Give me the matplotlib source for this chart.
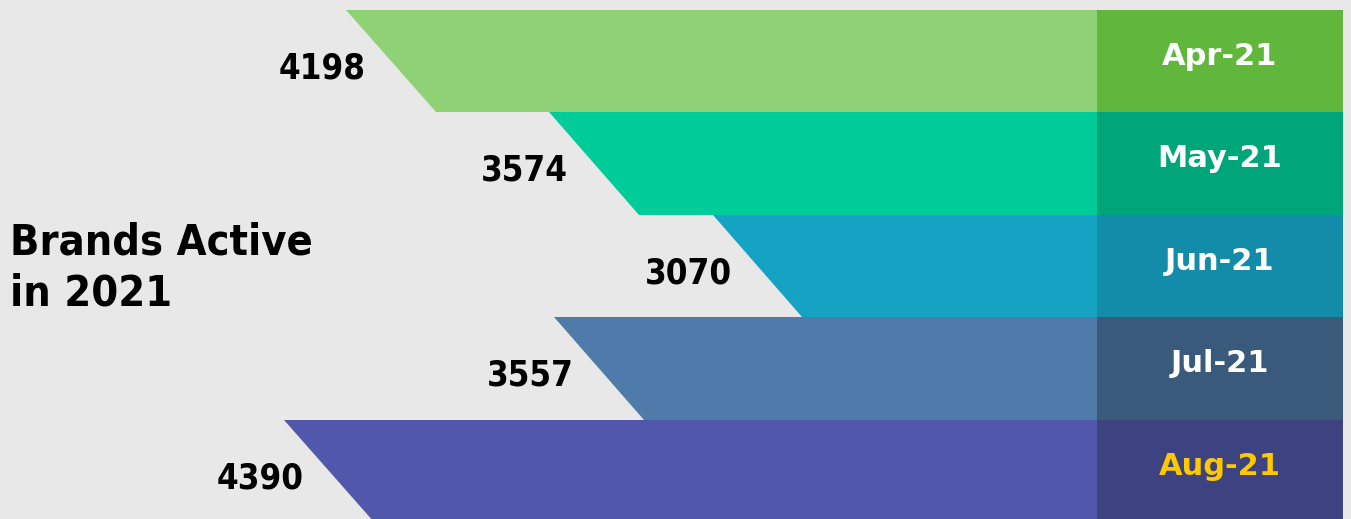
import matplotlib
matplotlib.use("Agg")
import matplotlib.pyplot as plt
from matplotlib.patches import Polygon

# data
months = ["Apr-21", "May-21", "Jun-21", "Jul-21", "Aug-21"]
brands = [4198, 3574, 3070, 3557, 4390]
light_colors = ["#8FD175", "#00CC99", "#15A3C4", "#4F7BAA", "#5158AB"]
dark_colors = ["#61B73C", "#00A57A", "#128CA8", "#3A5A7C", "#3D4280"]
label_colors = ["white", "white", "white", "white", "#FFC800"]

bg = "#E9E8E8"
base = 1128      # value at right end of the bands
dark_start = 1886  # where the darker month block starts
slant = 277      # horizontal shift of the slanted edge

fig = plt.figure(figsize=(13.51, 5.19), dpi=100)
fig.patch.set_facecolor(bg)
ax = fig.add_axes([0, 0, 1, 1])
ax.set_facecolor(bg)
ax.set_xlim(5265, 1103)
ax.set_ylim(4.966, -0.0976)
ax.axis("off")

num_font = dict(family="DejaVu Sans", weight="bold", stretch="condensed")

for i, (m, v) in enumerate(zip(months, brands)):
    top, bot = i, i + 1
    # slanted band
    ax.add_patch(Polygon([(v, top), (base, top), (base, bot), (v - slant, bot)],
                         closed=True, facecolor=light_colors[i], edgecolor="none"))
    # dark month block
    ax.add_patch(Polygon([(dark_start, top), (base, top), (base, bot), (dark_start, bot)],
                         closed=True, facecolor=dark_colors[i], edgecolor="none"))
    ax.text((dark_start + base) / 2, i + 0.45, m, ha="center", va="center",
            fontsize=22, color=label_colors[i], fontweight="bold", family="DejaVu Sans")
    ax.annotate(str(v), (v, i + 0.57), xytext=(14, 0), textcoords="offset points",
                ha="right", va="center", fontsize=25, color="black", **num_font)

fig.text(10 / 1351, 1 - 268 / 519, "Brands Active\nin 2021", ha="left", va="center",
         fontsize=31, color="black", linespacing=1.25, **num_font)

plt.savefig("out.png", dpi=100, facecolor=bg)
